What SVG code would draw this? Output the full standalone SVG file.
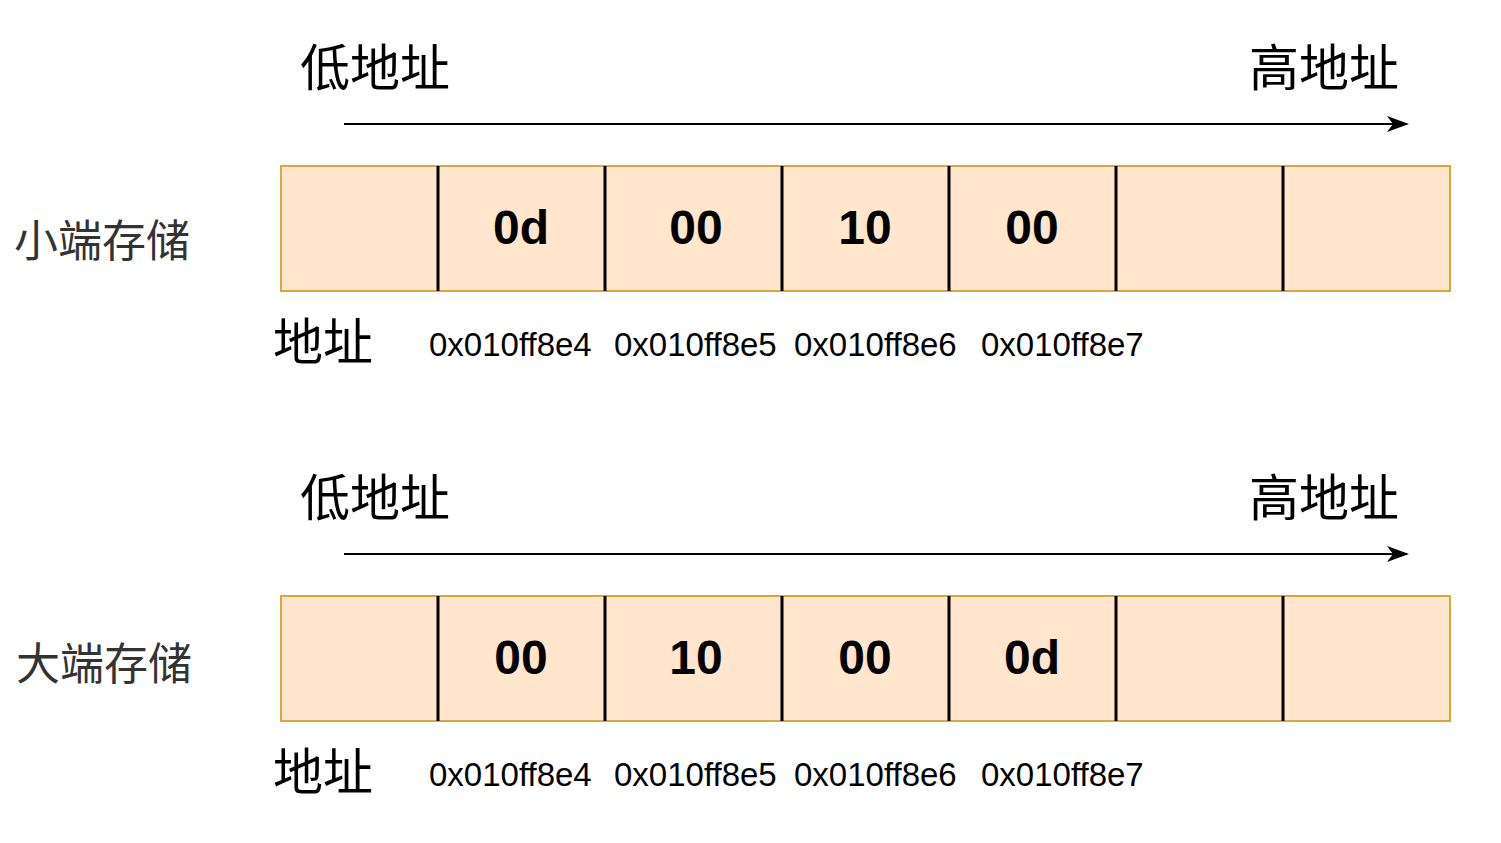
<svg xmlns="http://www.w3.org/2000/svg" width="1501" height="843" viewBox="0 0 1501 843">
<style>
.bg{fill:#ffe6cc;stroke:#d6a93a;stroke-width:2}
.div{stroke:#000;stroke-width:3}
.cjk{font-family:"Noto Sans CJK SC","Noto Sans",sans-serif}
.big{font-size:50px;fill:#000}
.side{font-size:44px;fill:#333}
.addr{font-family:"Liberation Sans",Arial,sans-serif;font-size:33px;fill:#000}
.val{font-family:"Liberation Sans",Arial,sans-serif;font-size:48px;font-weight:bold;fill:#000;text-anchor:middle}
.arr{stroke:#000;stroke-width:2;fill:none}
</style>
<defs>
<marker id="ah" markerWidth="22" markerHeight="16" refX="20" refY="8" orient="auto" markerUnits="userSpaceOnUse">
<path d="M0,0 L22,8 L0,16 L6,8 Z" fill="#000"/>
</marker>
</defs>
<g id="connectors">
<line class="arr" x1="344" y1="124" x2="1407" y2="124" marker-end="url(#ah)"/>
<line class="arr" x1="344" y1="554" x2="1407" y2="554" marker-end="url(#ah)"/>
</g>
<g id="labels-top">
<text class="cjk big" x="300" y="86">低地址</text>
<text class="cjk big" x="1249" y="86">高地址</text>
<text class="cjk side" x="14" y="257">小端存储</text>
</g>
<g id="row-little">
<rect class="bg" x="281" y="166" width="1169" height="125"/>
<line class="div" x1="438" y1="166" x2="438" y2="291"/>
<line class="div" x1="605" y1="166" x2="605" y2="291"/>
<line class="div" x1="782" y1="166" x2="782" y2="291"/>
<line class="div" x1="949" y1="166" x2="949" y2="291"/>
<line class="div" x1="1116" y1="166" x2="1116" y2="291"/>
<line class="div" x1="1283" y1="166" x2="1283" y2="291"/>
<text class="val" x="521" y="244">0d</text>
<text class="val" x="696" y="244">00</text>
<text class="val" x="865" y="244">10</text>
<text class="val" x="1032" y="244">00</text>
</g>
<g id="addr-little">
<text class="cjk big" x="273" y="360">地址</text>
<text class="addr" x="429" y="356">0x010ff8e4</text>
<text class="addr" x="614" y="356">0x010ff8e5</text>
<text class="addr" x="794" y="356">0x010ff8e6</text>
<text class="addr" x="981" y="356">0x010ff8e7</text>
</g>
<g id="labels-bottom">
<text class="cjk big" x="300" y="516">低地址</text>
<text class="cjk big" x="1249" y="516">高地址</text>
<text class="cjk side" x="16" y="680">大端存储</text>
</g>
<g id="row-big">
<rect class="bg" x="281" y="596" width="1169" height="125"/>
<line class="div" x1="438" y1="596" x2="438" y2="721"/>
<line class="div" x1="605" y1="596" x2="605" y2="721"/>
<line class="div" x1="782" y1="596" x2="782" y2="721"/>
<line class="div" x1="949" y1="596" x2="949" y2="721"/>
<line class="div" x1="1116" y1="596" x2="1116" y2="721"/>
<line class="div" x1="1283" y1="596" x2="1283" y2="721"/>
<text class="val" x="521" y="674">00</text>
<text class="val" x="696" y="674">10</text>
<text class="val" x="865" y="674">00</text>
<text class="val" x="1032" y="674">0d</text>
</g>
<g id="addr-big">
<text class="cjk big" x="273" y="790">地址</text>
<text class="addr" x="429" y="786">0x010ff8e4</text>
<text class="addr" x="614" y="786">0x010ff8e5</text>
<text class="addr" x="794" y="786">0x010ff8e6</text>
<text class="addr" x="981" y="786">0x010ff8e7</text>
</g>
</svg>
